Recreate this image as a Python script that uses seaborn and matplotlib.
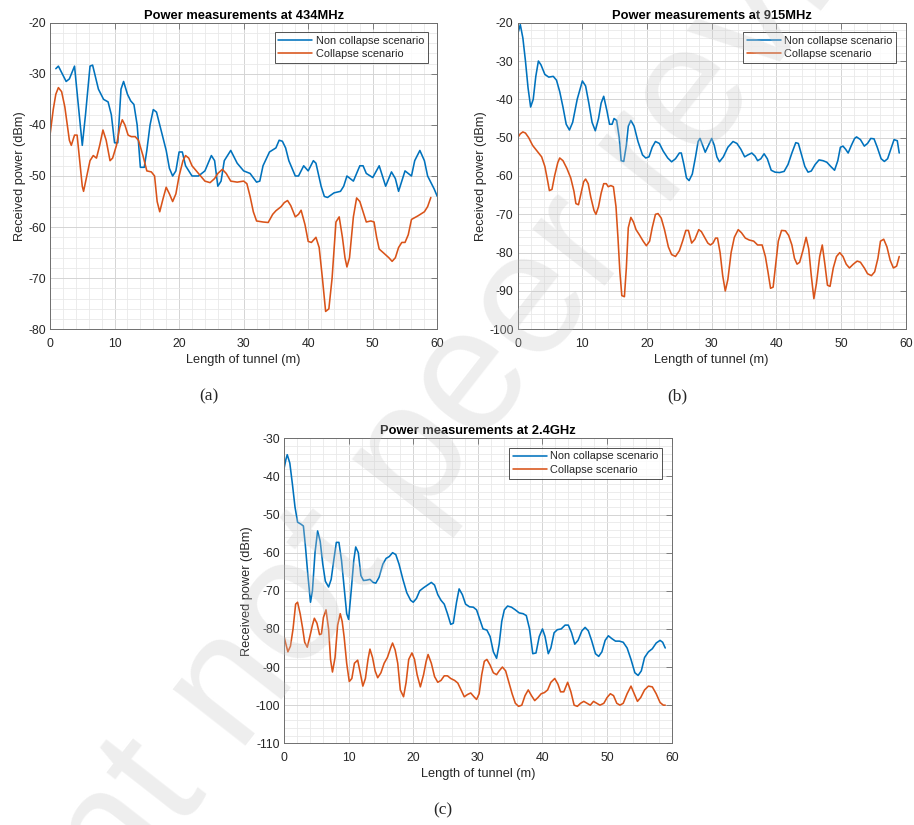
import matplotlib
matplotlib.use("Agg")
import matplotlib.pyplot as plt
import seaborn as sns
from matplotlib.ticker import MultipleLocator

# --- data ---------------------------------------------------------------
# (a) 434 MHz
x_434_non = [0.9, 1.3, 2.5, 3.0, 3.8, 4.3, 5.0, 5.5, 6.2, 6.6, 7.5, 8.3, 9.0, 9.5, 10.0, 10.5,
             11.0, 11.4, 12.0, 12.5, 13.0, 13.5, 14.0, 14.6, 15.0, 15.5, 16.0, 16.5, 17.0, 18.0,
             18.5, 19.0, 19.5, 20.0, 20.5, 21.0, 22.0, 23.0, 24.0, 25.0, 25.5, 26.0, 26.5, 27.0,
             28.0, 29.0, 30.0, 31.0, 32.0, 32.5, 33.0, 34.0, 35.0, 35.5, 36.0, 36.5, 37.0, 38.0,
             38.5, 39.3, 40.0, 40.8, 41.2, 42.0, 42.5, 43.0, 44.0, 45.0, 45.5, 46.0, 47.0, 48.0,
             48.5, 49.0, 50.0, 51.0, 51.5, 52.0, 52.9, 53.5, 54.0, 55.0, 55.5, 56.0, 56.5, 57.3,
             58.0, 58.5, 59.5, 60.0]
y_434_non = [-29, -28.5, -31.5, -31, -28.5, -35, -44, -38, -28.5, -28.3, -33, -35, -35.5, -38, -43.5, -43.5,
             -33, -31.5, -34, -35.3, -36, -40, -48.3, -48.3, -45, -40, -37, -37.5, -40, -45,
             -48.5, -50, -49, -45.3, -45.3, -48, -50, -50, -49, -46, -47, -52, -51, -47,
             -45, -47.5, -49, -49.5, -51.2, -51, -48, -45.3, -44.5, -43, -43.2, -44.5, -47, -50,
             -50, -48, -49, -47, -47.5, -52, -54, -54.2, -53.3, -53, -52, -50, -51, -48,
             -48, -49.5, -50.3, -48, -50, -52, -49.2, -50.5, -53, -49, -49.5, -50, -47, -45,
             -47, -50, -52.5, -54]

x_434_col = [0.0, 0.5, 0.9, 1.3, 1.8, 2.3, 3.0, 3.3, 3.8, 4.2, 4.6, 5.0, 5.2, 5.7, 6.2, 6.7,
             7.2, 7.7, 8.2, 8.7, 9.3, 9.7, 10.3, 10.8, 11.2, 11.6, 12.1, 12.6, 13.2, 13.7, 14.4,
             15.0, 15.7, 16.2, 16.6, 17.0, 17.5, 18.0, 18.5, 19.0, 19.5, 20.0, 20.6, 21.0, 21.5,
             22.0, 23.0, 24.0, 24.8, 25.5, 26.0, 26.7, 27.3, 28.0, 29.0, 30.0, 30.5, 31.0, 31.5,
             32.0, 33.0, 33.8, 34.5, 35.0, 35.8, 36.3, 36.8, 37.3, 38.0, 38.5, 38.9, 39.5, 40.0,
             40.5, 41.2, 41.7, 42.2, 42.7, 43.2, 43.7, 44.3, 44.8, 45.3, 45.7, 46.0, 46.4, 47.0,
             47.5, 48.0, 48.5, 49.0, 49.7, 50.2, 50.6, 51.0, 51.8, 52.5, 53.0, 53.5, 54.0, 54.5,
             55.0, 55.5, 56.0, 57.0, 58.0, 58.5, 59.0]
y_434_col = [-42, -37, -34, -32.7, -33.5, -36.5, -43, -44, -42, -42, -47, -52, -53, -50, -47, -46,
             -46.5, -44, -41, -43, -47, -46.5, -44, -40.5, -39, -40, -42, -42.3, -42.3, -43, -46,
             -49, -49.2, -50, -55, -57, -54.5, -52.2, -53.5, -55, -53.5, -50, -47, -46, -46.5,
             -48, -49.5, -51, -51.3, -50.5, -49.5, -48.7, -49.5, -51, -51.2, -51, -51.5, -54, -57,
             -58.8, -59, -59.1, -57.5, -56.8, -56, -55.2, -54.8, -55.8, -58, -57.5, -56.7, -59.5, -62.8,
             -63, -62, -64, -70, -76.5, -76, -70, -59, -58, -62, -66, -67.8, -66, -58,
             -54.3, -55, -57, -59, -58.8, -59, -62, -64.3, -65.2, -66, -66.7, -66, -64, -63,
             -63, -61.5, -58.5, -57.8, -57, -56, -54.2]

# (b) 915 MHz
x_915_non = [0.0, 0.4, 0.8, 1.2, 1.6, 2.0, 2.4, 2.8, 3.2, 3.6, 4.2, 4.8, 5.5, 6.0, 6.5, 7.0,
             7.5, 8.0, 8.5, 9.2, 10.0, 10.5, 11.0, 11.5, 12.0, 12.5, 12.9, 13.3, 13.8, 14.2, 14.6,
             14.9, 15.3, 15.7, 16.0, 16.4, 16.8, 17.1, 17.5, 18.0, 18.6, 19.3, 19.8, 20.3, 20.8,
             21.3, 21.9, 22.5, 23.2, 23.8, 24.4, 25.0, 25.3, 25.7, 26.1, 26.5, 27.0, 27.5, 27.9,
             28.2, 28.6, 29.0, 29.5, 30.0, 30.4, 30.8, 31.2, 31.8, 32.5, 33.3, 33.9, 34.5, 35.1,
             35.6, 36.2, 36.7, 37.1, 37.6, 38.1, 38.6, 39.2, 39.8, 40.5, 41.2, 41.8, 42.4, 43.0,
             43.4, 43.9, 44.4, 44.9, 45.4, 46.0, 46.6, 47.2, 47.8, 48.4, 49.0, 49.5, 49.9, 50.3,
             50.7, 51.1, 51.6, 52.1, 52.4, 53.0, 53.6, 54.1, 54.6, 55.1, 55.6, 56.2, 56.7, 57.2,
             57.7, 58.2, 58.7, 59.0]
y_915_non = [-23, -20.5, -24, -30, -37, -42, -40, -34, -30, -31, -33.5, -34.2, -34, -35, -38, -42,
             -46.5, -48, -46, -40, -35.2, -36.5, -41, -46, -48.2, -45, -41, -39.2, -43, -46.5, -46.5,
             -45, -45.5, -50, -56, -56.2, -52, -47, -45.5, -47, -51, -54.5, -55.3, -55, -52.5,
             -51, -51.5, -53.5, -55.3, -56.3, -55.5, -54, -54, -57, -60.5, -61.2, -59.5, -55, -51,
             -50.2, -52, -53.8, -52, -50.2, -52, -55, -56.3, -55, -52.5, -51, -51.5, -53, -55,
             -54.5, -54, -54.8, -56, -55.5, -54.2, -55.5, -58.5, -59, -59.1, -58.8, -57, -54, -51.3,
             -51.5, -54.5, -57.5, -59, -58.7, -57, -55.8, -56, -56.4, -57.5, -58.5, -56, -52.5, -52.2,
             -53, -54, -52, -50.2, -49.8, -50.5, -52.2, -51.5, -50.2, -50.3, -52.5, -55.5, -56.2, -55.5,
             -53, -50.5, -50.8, -54]

x_915_col = [0.0, 0.4, 0.8, 1.2, 1.7, 2.3, 3.0, 3.7, 4.2, 4.6, 4.9, 5.3, 5.7, 6.2, 6.5, 7.0,
             7.6, 8.2, 8.7, 9.0, 9.4, 9.8, 10.2, 10.5, 10.9, 11.3, 11.8, 12.1, 12.5, 12.9, 13.3,
             13.7, 14.0, 14.4, 14.8, 15.2, 15.5, 15.8, 16.1, 16.5, 16.8, 17.1, 17.5, 17.9, 18.3,
             18.8, 19.4, 19.9, 20.4, 20.8, 21.3, 21.7, 22.2, 22.7, 23.3, 23.8, 24.4, 25.0, 25.5,
             26.0, 26.4, 26.9, 27.4, 28.0, 28.4, 28.9, 29.4, 29.8, 30.2, 30.6, 30.9, 31.3, 31.7,
             32.1, 32.5, 33.0, 33.5, 34.1, 34.6, 35.2, 35.8, 36.5, 37.1, 37.8, 38.3, 38.7, 39.1,
             39.5, 39.9, 40.3, 40.8, 41.4, 41.9, 42.4, 42.8, 43.2, 43.6, 44.1, 44.6, 45.0, 45.4,
             45.8, 46.2, 46.7, 47.1, 47.5, 47.9, 48.3, 48.8, 49.3, 49.8, 50.3, 50.8, 51.3, 51.9,
             52.5, 53.0, 53.6, 54.1, 54.7, 55.2, 55.7, 56.1, 56.6, 57.1, 57.6, 58.1, 58.6, 59.0]
y_915_col = [-50, -49, -48.5, -48.8, -50, -52, -53.5, -55, -57.5, -61, -63.8, -63.5, -60, -56.5, -55.3, -56,
             -58, -60.5, -64, -67.2, -67.5, -64.5, -61.5, -60.8, -62, -65.5, -69, -70, -68, -64.5, -62,
             -62, -62.8, -62.5, -62.8, -68, -76, -85, -91.2, -91.5, -84, -73.5, -70.8, -72, -74,
             -75.3, -77, -78.2, -77, -73.5, -70, -69.8, -71, -74, -78.5, -80.5, -81, -79.5, -77,
             -74.2, -74.2, -77.5, -76.5, -74, -74.5, -76, -77.5, -78, -77.5, -76.2, -76.2, -80, -86,
             -90, -87, -80, -76, -74, -74.8, -76.2, -76.7, -77, -78, -78, -81, -85, -89.3,
             -89, -83, -77, -74.2, -74.3, -75.5, -78, -81.5, -83, -82.5, -79.5, -76, -79, -86,
             -92, -88, -81, -78, -83, -88.5, -88.8, -84, -81, -80, -81, -83, -84, -83,
             -82.2, -82.5, -84, -85.5, -86, -85, -81.5, -77, -76.5, -78.5, -82, -84, -83.5, -81]

# (c) 2.4 GHz
x_24_non = [0.0, 0.3, 0.5, 0.9, 1.3, 1.7, 2.1, 2.6, 3.0, 3.3, 3.7, 4.1, 4.4, 4.8, 5.2, 5.6,
            6.0, 6.4, 6.9, 7.3, 7.7, 8.1, 8.5, 8.9, 9.3, 9.7, 10.0, 10.4, 10.8, 11.1, 11.5,
            11.9, 12.3, 12.8, 13.3, 13.8, 14.2, 14.7, 15.3, 15.8, 16.3, 16.8, 17.3, 17.8, 18.4,
            19.0, 19.6, 20.0, 20.5, 21.0, 21.6, 22.2, 22.8, 23.3, 23.8, 24.3, 24.8, 25.3, 25.8,
            26.2, 26.7, 27.1, 27.6, 28.1, 28.7, 29.3, 29.8, 30.3, 30.8, 31.4, 31.9, 32.4, 32.9,
            33.3, 33.7, 34.1, 34.6, 35.2, 35.8, 36.4, 37.0, 37.5, 38.0, 38.5, 39.0, 39.5, 40.0,
            40.4, 40.9, 41.3, 41.8, 42.3, 42.9, 43.5, 44.0, 44.5, 45.0, 45.5, 46.1, 46.6, 47.1,
            47.6, 48.2, 48.7, 49.2, 49.7, 50.2, 50.7, 51.3, 51.9, 52.5, 53.1, 53.7, 54.3, 54.8,
            55.3, 55.8, 56.4, 57.0, 57.6, 58.2, 58.6, 59.0]
y_24_non = [-38, -35.5, -34.3, -36.5, -42, -48, -52, -52.5, -53, -58, -66, -73, -70, -60, -54.3, -57,
            -63, -67.5, -69, -67, -62, -57.3, -57.3, -62, -69, -76, -77.5, -70, -62, -58.5, -60,
            -66, -67.3, -67.2, -67, -67.8, -68, -66.5, -63, -61.5, -61, -60, -60.5, -63, -67,
            -70.5, -72.5, -73, -72, -70, -69.2, -68.5, -67.8, -68.5, -71, -72.5, -73.5, -76, -78.8,
            -78.5, -73, -69.5, -71, -73.5, -74.2, -74.3, -75, -77.5, -80, -80.3, -82, -86, -87.7,
            -84, -78, -75, -74, -74.3, -75, -75.8, -76, -76.5, -80, -86.5, -86.3, -82, -80,
            -82, -86.5, -85, -81, -80.2, -80, -79, -79, -81, -84, -83, -80.5, -79.6, -80.5,
            -83, -86.5, -87.2, -86, -83, -81.8, -82.5, -83.2, -83.2, -83.5, -85, -88, -91.5, -92.2,
            -91, -87.5, -86, -85.2, -83.7, -83, -83.5, -85]

x_24_col = [0.0, 0.3, 0.6, 1.0, 1.4, 1.8, 2.1, 2.5, 2.9, 3.2, 3.6, 4.0, 4.4, 4.7, 5.1, 5.5,
            5.8, 6.1, 6.5, 6.9, 7.2, 7.5, 7.9, 8.3, 8.7, 9.0, 9.3, 9.7, 10.1, 10.5, 10.9,
            11.4, 11.8, 12.2, 12.6, 13.0, 13.3, 13.7, 14.1, 14.5, 15.0, 15.5, 16.0, 16.5, 16.8,
            17.2, 17.6, 18.0, 18.5, 18.9, 19.3, 19.8, 20.2, 20.6, 21.1, 21.6, 22.0, 22.3, 22.8,
            23.3, 23.8, 24.3, 24.8, 25.3, 25.8, 26.4, 26.9, 27.4, 27.9, 28.4, 28.9, 29.4, 29.8,
            30.2, 30.6, 31.0, 31.4, 31.9, 32.4, 32.9, 33.3, 33.8, 34.3, 34.8, 35.3, 35.8, 36.3,
            36.8, 37.3, 37.8, 38.3, 38.8, 39.3, 39.8, 40.3, 40.8, 41.3, 41.9, 42.4, 42.8, 43.3,
            43.9, 44.4, 44.9, 45.4, 45.9, 46.4, 46.9, 47.4, 47.9, 48.4, 48.9, 49.5, 50.0, 50.5,
            51.0, 51.5, 52.0, 52.5, 53.1, 53.7, 54.2, 54.7, 55.2, 55.8, 56.4, 57.0, 57.6, 58.2,
            58.7, 59.0]
y_24_col = [-82, -84, -86, -84.5, -80, -73.5, -73, -76, -80, -83.5, -84.8, -82, -79, -77.2, -78.5, -81.5,
            -81.3, -77, -75, -80, -88, -91.3, -87.5, -79, -76, -78, -82, -89, -93.8, -93, -89,
            -88.2, -91.5, -95, -93, -88, -85.3, -87.5, -91, -92.8, -91.5, -89, -87.5, -85, -83.7,
            -85.5, -89, -96, -97.8, -94, -88, -86.3, -88, -92, -95.2, -92, -88.5, -86.7, -89,
            -92.5, -94, -93.5, -92.3, -92.3, -93, -93.5, -94.2, -96, -97.8, -97.2, -96.8, -97.8, -98.5,
            -97, -92, -88.5, -88, -89.5, -91.5, -92, -91, -90, -91, -94, -97, -99.5, -100.3,
            -100, -97.5, -96, -97.5, -98.8, -98, -97, -96.7, -96, -94, -93, -94.5, -96.5, -96.5,
            -94, -96.5, -100, -100.3, -99.5, -99, -99.5, -100, -99, -99.5, -100, -99.5, -98, -97,
            -97.5, -99.5, -100, -99.5, -97, -95, -97, -99, -98, -96, -95, -95.2, -97, -99.3,
            -100, -100]

titles = ["Power measurements at 434MHz", "Power measurements at 915MHz",
          "Power measurements at 2.4GHz"]
captions = ["(a)", "(b)", "(c)"]
series_names = ["Non collapse scenario", "Collapse scenario"]
y_limits = [(-80, -20), (-100, -20), (-110, -30)]

blue = "#0072BD"
orange = "#D95319"

sns.set_style("white")
plt.rcParams["font.family"] = ["Liberation Sans", "DejaVu Sans"]
plt.rcParams["axes.unicode_minus"] = False

fig = plt.figure(figsize=(9.14, 8.25), dpi=100)

W, H = 914, 825
boxes = [(50, 22.7, 437.3, 329.3), (517.7, 22.7, 905.7, 329.3), (284, 438.3, 671.7, 743.3)]
cap_pos = [(209, 396), (677, 396), (443, 810)]
panels = [(x_434_non, y_434_non, x_434_col, y_434_col),
          (x_915_non, y_915_non, x_915_col, y_915_col),
          (x_24_non, y_24_non, x_24_col, y_24_col)]

for i in range(3):
    x0, y0, x1, y1 = boxes[i]
    ax = fig.add_axes([x0 / W, 1 - y1 / H, (x1 - x0) / W, (y1 - y0) / H])
    xn, yn, xc, yc = panels[i]
    sns.lineplot(x=xn, y=yn, ax=ax, color=blue, linewidth=1.15, label=series_names[0], sort=False)
    sns.lineplot(x=xc, y=yc, ax=ax, color=orange, linewidth=1.15, label=series_names[1], sort=False)

    ax.set_xlim(0, 60)
    ax.set_ylim(*y_limits[i])
    ax.xaxis.set_major_locator(MultipleLocator(10))
    ax.yaxis.set_major_locator(MultipleLocator(10))
    ax.xaxis.set_minor_locator(MultipleLocator(2))
    ax.yaxis.set_minor_locator(MultipleLocator(2))
    ax.grid(which="major", color="#d4d4d4", linewidth=0.7)
    ax.grid(which="minor", color="#e9e9e9", linewidth=0.6)
    ax.set_axisbelow(True)
    ax.tick_params(which="major", direction="in", length=4, width=0.6, top=True, right=True,
                   labelsize=8.8, colors="#6e6e6e", labelcolor="#262626", pad=3)
    ax.tick_params(axis="x", which="major", pad=6.5)
    ax.tick_params(which="minor", length=0)
    for s in ax.spines.values():
        s.set_color("#6e6e6e")
        s.set_linewidth(0.7)

    ax.set_xlabel("Length of tunnel (m)", fontsize=9.2, color="#262626", labelpad=3)
    ax.set_ylabel("Received power (dBm)", fontsize=9.2, color="#262626", labelpad=1.5)
    ax.set_title(titles[i], fontsize=9.3, fontweight="bold", color="black", pad=3)

    leg = ax.legend(loc="upper right", fontsize=7.9, frameon=True, fancybox=False,
                    handlelength=3.1, borderaxespad=0.85, borderpad=0.35, labelspacing=0.3,
                    handletextpad=0.3)
    leg.get_frame().set_edgecolor("#262626")
    leg.get_frame().set_linewidth(0.7)
    for t in leg.get_texts():
        t.set_color("#262626")

    fig.text(cap_pos[i][0] / W, 1 - cap_pos[i][1] / H, captions[i], fontsize=12.5,
             family=["Liberation Serif", "DejaVu Serif"], ha="center", va="center")

# faint diagonal watermark lying over the figure
fig.text(428 / W, 1 - 440 / H, "Preprint not peer reviewed", fontsize=126, color="#c8c8c8",
         alpha=0.3, rotation=52, ha="center", va="center", rotation_mode="anchor", zorder=10)

fig.savefig("out.png", dpi=100)
